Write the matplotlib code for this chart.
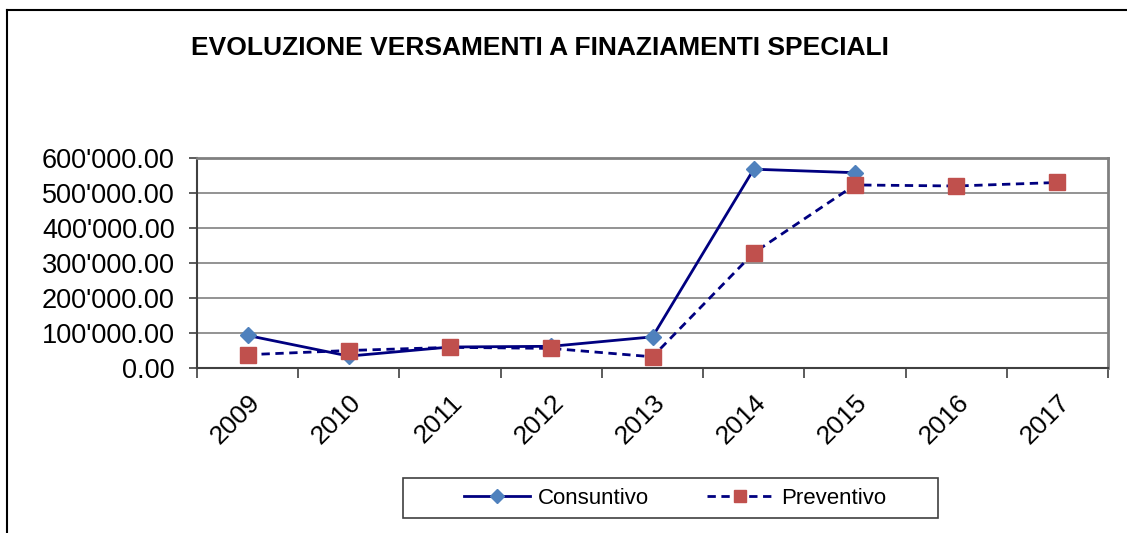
import numpy as np
import matplotlib.pyplot as plt
from matplotlib.lines import Line2D
from matplotlib.patches import Rectangle
from matplotlib.ticker import FuncFormatter

# dati
anni = ["2009", "2010", "2011", "2012", "2013", "2014", "2015", "2016", "2017"]
consuntivo = [93000, 34000, 60000, 62000, 89000, 568000, 558000]
preventivo = [38000, 50000, 59000, 56000, 32000, 329000, 523000, 520000, 530000]

plt.rcParams['font.family'] = ['Liberation Sans', 'DejaVu Sans']

W, H = 1127, 533
fig = plt.figure(figsize=(W / 100, H / 100), dpi=100)
ax = fig.add_axes([197 / W, 1 - 368 / H, (1108 - 197) / W, (368 - 158) / H])

x = np.arange(len(anni))
ax.plot(x[:len(consuntivo)], consuntivo, color='#000080', lw=2, marker='D',
        ms=8, mfc='#4F81BD', mec='#4F81BD', label='Consuntivo', zorder=3)
ax.plot(x, preventivo, color='#000080', lw=2, ls=(0, (3, 2)), marker='s',
        ms=11, mfc='#C0504D', mec='#C0504D', label='Preventivo', zorder=4)

ax.set_xlim(-0.5, len(anni) - 0.5)
ax.set_ylim(0, 600000)
ax.set_yticks(np.arange(0, 600001, 100000))
ax.yaxis.set_major_formatter(FuncFormatter(lambda v, p: f"{v:,.2f}".replace(",", "'")))
ax.grid(axis='y', color='#808080', lw=1.2)
ax.set_axisbelow(True)

# tick tra le categorie, etichette al centro
ax.set_xticks(np.arange(-0.5, len(anni), 1.0))
ax.set_xticklabels([])
ax.set_xticks(x, minor=True)
ax.set_xticklabels(anni, minor=True, rotation=45, ha='right', rotation_mode='anchor',
                   fontsize=19)
ax.tick_params(axis='x', which='minor', length=0, pad=16)
ax.tick_params(axis='x', which='major', length=7, color='#404040', width=1.2)
ax.tick_params(axis='y', length=6, color='#404040', width=1.2, labelsize=19.5, pad=10)

for s in ['top', 'right']:
    ax.spines[s].set_color('#808080')
    ax.spines[s].set_linewidth(2)
for s in ['left', 'bottom']:
    ax.spines[s].set_color('#404040')
    ax.spines[s].set_linewidth(1.5)

fig.text(540 / W, 1 - 48 / H, "EVOLUZIONE VERSAMENTI A FINAZIAMENTI SPECIALI",
         ha='center', va='center', fontsize=19, fontweight='bold')

# legenda con cornice disegnata a parte
leg = fig.legend(loc='center', bbox_to_anchor=(675 / W, 1 - 498 / H), ncol=2,
                 fontsize=16, frameon=False, handlelength=3.0, handletextpad=0.35,
                 columnspacing=2.6, markerscale=0.85)
fig.patches.append(Rectangle((403 / W, 1 - 518 / H), (938 - 403) / W, 40 / H,
                             transform=fig.transFigure, fill=False, ec='#404040', lw=1.2))

# cornice esterna (solo lato sinistro e superiore visibili)
fig.lines.append(Line2D([7 / W, 7 / W], [0, 1 - 10 / H], transform=fig.transFigure,
                        color='black', lw=1.5))
fig.lines.append(Line2D([7 / W, 1], [1 - 10 / H, 1 - 10 / H], transform=fig.transFigure,
                        color='black', lw=1.5))

fig.savefig("out.png", dpi=100)
